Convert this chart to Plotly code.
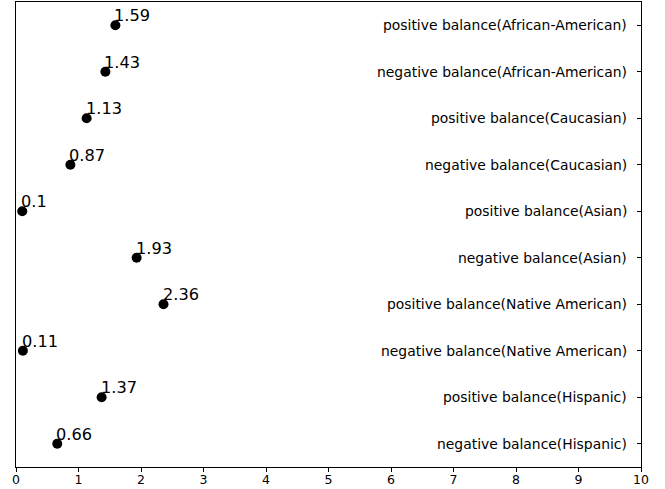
import plotly.graph_objects as go

categories = [
    "negative balance(Hispanic)",
    "positive balance(Hispanic)",
    "negative balance(Native American)",
    "positive balance(Native American)",
    "negative balance(Asian)",
    "positive balance(Asian)",
    "negative balance(Caucasian)",
    "positive balance(Caucasian)",
    "negative balance(African-American)",
    "positive balance(African-American)",
]
values = [0.66, 1.37, 0.11, 2.36, 1.93, 0.1, 0.87, 1.13, 1.43, 1.59]
x_ticks = list(range(0, 11))

fig = go.Figure()
fig.add_trace(go.Scatter(
    x=values, y=categories, mode="markers",
    marker=dict(color="black", size=10),
    showlegend=False, cliponaxis=False, hoverinfo="skip",
))
for v, c in zip(values, categories):
    fig.add_annotation(
        x=v, y=c, text=str(v), showarrow=False,
        xanchor="left", yanchor="bottom", xshift=-3, yshift=-2,
        font=dict(family="DejaVu Sans", size=16.2, color="black"),
    )
# y category labels drawn inside the plot, next to the right-side ticks
for c in categories:
    fig.add_annotation(
        x=1, xref="paper", y=c, yref="y", text=c, showarrow=False,
        xanchor="right", yanchor="middle", xshift=-12,
        font=dict(family="DejaVu Sans", size=13.9, color="black"),
    )

fig.update_layout(
    width=665, height=489,
    margin=dict(l=16, r=24, t=2, b=22),
    plot_bgcolor="white", paper_bgcolor="white",
    font=dict(family="DejaVu Sans", color="black"),
)
fig.update_xaxes(
    range=[0, 10], tickvals=x_ticks, ticks="outside", ticklen=4,
    tickcolor="black", showline=True, linecolor="black", linewidth=1,
    mirror=True, showgrid=False, zeroline=False, automargin=False,
    ticklabelstandoff=-3,
    tickfont=dict(size=12.5, family="DejaVu Sans", color="black"),
)
fig.update_yaxes(
    type="category", categoryorder="array", categoryarray=categories,
    range=[-0.5, 9.5], side="right", ticks="inside", ticklen=4,
    tickcolor="black", showticklabels=False, automargin=False,
    showline=True, linecolor="black", linewidth=1, mirror=True,
    showgrid=False, zeroline=False,
)
fig.write_html(
    "out.html",
    config={"displayModeBar": False},
    post_script="document.body.style.margin='0';document.body.style.overflow='hidden';",
)
